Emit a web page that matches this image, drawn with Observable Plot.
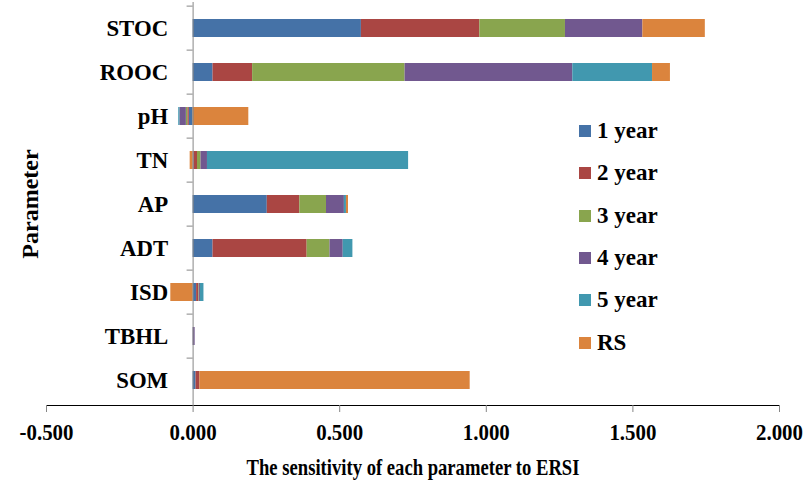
<!DOCTYPE html>
<html><head><meta charset="utf-8">
<script src="https://cdn.jsdelivr.net/npm/d3@7"></script>
<script src="https://cdn.jsdelivr.net/npm/@observablehq/plot@0.6"></script>
<style>
body{margin:0;background:#fff;}
#chart{position:relative;width:809px;height:481px;overflow:hidden;font-family:"Liberation Serif","Times New Roman",serif;font-weight:bold;}
#legend{position:absolute;left:579px;top:110px;}
.item{display:flex;align-items:center;height:42.3px;font-size:23px;color:#000;}
.sw{width:12px;height:12px;margin-right:6px;}
</style></head><body><div id="chart"></div>
<script>
const params = ["STOC","ROOC","pH","TN","AP","ADT","ISD","TBHL","SOM"];
const series = ["1 year","2 year","3 year","4 year","5 year","RS"];
const year1 = [0.574, 0.068, -0.013, 0.003, 0.253, 0.068, 0.012, 0, 0.010];
const year2 = [0.404, 0.135, -0.005, 0.012, 0.111, 0.321, 0.007, 0, 0.013];
const year3 = [0.292, 0.520, -0.005, 0.012, 0.091, 0.078, 0.002, 0, 0];
const year4 = [0.264, 0.572, -0.022, 0.022, 0.061, 0.045, 0.004, 0.007, 0];
const year5 = [0, 0.272, -0.004, 0.686, 0.007, 0.033, 0.012, 0, 0];
const rs    = [0.213, 0.061, 0.190, -0.010, 0.007, 0, -0.076, 0, 0.922];
const xTicks = [-0.5, 0, 0.5, 1, 1.5, 2];
const colors = ["#4572A7","#AA4643","#89A54E","#71588F","#4198AF","#DB843D"];
const xTitle = "The sensitivity of each parameter to ERSI";
const yTitle = "Parameter";

const seriesValues = [year1, year2, year3, year4, year5, rs];
const rows = [];
params.forEach((p, i) => series.forEach((s, j) => rows.push({param: p, series: s, value: seriesValues[j][i]})));

const W = 809, H = 481, mL = 46, mR = 30, mT = 2, mB = 76;
const step = (H - mT - mB) / params.length;
const tickLen = 6 * 2.5 / (W - mL - mR);
const fmt = d3.format(".3f");

const plot = Plot.plot({
  width: W, height: H,
  marginLeft: mL, marginRight: mR, marginTop: mT, marginBottom: mB,
  style: {fontFamily: "Liberation Serif, Times New Roman, serif", fontWeight: "bold", fontSize: "24px", color: "#000", background: "#fff", overflow: "visible"},
  x: {domain: [-0.5, 2], ticks: xTicks, tickFormat: d => fmt(d).replace("\u2212", "-"), tickSize: 7, tickPadding: 10, line: true, label: null},
  y: {domain: params, axis: null, paddingInner: 0.6, paddingOuter: 0.3},
  color: {domain: series, range: colors},
  marks: [
    Plot.barX(rows, {x: "value", y: "param", fill: "series"}),
    Plot.ruleX([0], {stroke: "#868686"}),
    Plot.ruleY(params, {y: d => d, x1: -tickLen, x2: 0, dy: -step / 2, stroke: "#868686"}),
    Plot.text(params, {x: 0, y: d => d, text: d => d, textAnchor: "end", dx: -25, fill: "#000", fontSize: 24}),
    Plot.text([yTitle], {frameAnchor: "left", textAnchor: "middle", rotate: -90, dx: -16, text: d => d, fontSize: 24, fill: "#000"}),
    Plot.text([xTitle], {frameAnchor: "bottom", textAnchor: "middle", lineAnchor: "bottom", dy: 69, text: d => d, fontSize: 23, fill: "#000"})
  ]
});
const svg = plot.tagName.toLowerCase() === "svg" ? plot : plot.querySelector("svg");
d3.select(svg).selectAll("line, path").filter(function() {
  const g = this.closest("g");
  return g && (g.getAttribute("aria-label") || "").startsWith("x-axis") || (this.parentNode && this.parentNode.classList && this.parentNode.classList.contains("tick")) || (this.classList && this.classList.contains("domain"));
}).attr("stroke", "#868686");
document.getElementById("chart").appendChild(plot);

svg.querySelectorAll("text").forEach(t => {
  const s = t.textContent;
  let f = null;
  if (/^-?\d\.\d{3}$/.test(s)) f = 0.87;
  else if (params.includes(s)) f = 0.95;
  else if (s === xTitle) f = 0.81;
  if (f) {
    const L = t.getComputedTextLength();
    t.setAttribute("textLength", (L * f).toFixed(1));
    t.setAttribute("lengthAdjust", "spacingAndGlyphs");
  }
});

const legend = document.createElement("div");
legend.id = "legend";
series.forEach((s, j) => {
  const it = document.createElement("div"); it.className = "item";
  const sw = document.createElement("span"); sw.className = "sw"; sw.style.background = colors[j];
  const tx = document.createElement("span"); tx.textContent = s;
  it.appendChild(sw); it.appendChild(tx); legend.appendChild(it);
});
document.getElementById("chart").appendChild(legend);
</script></body></html>
